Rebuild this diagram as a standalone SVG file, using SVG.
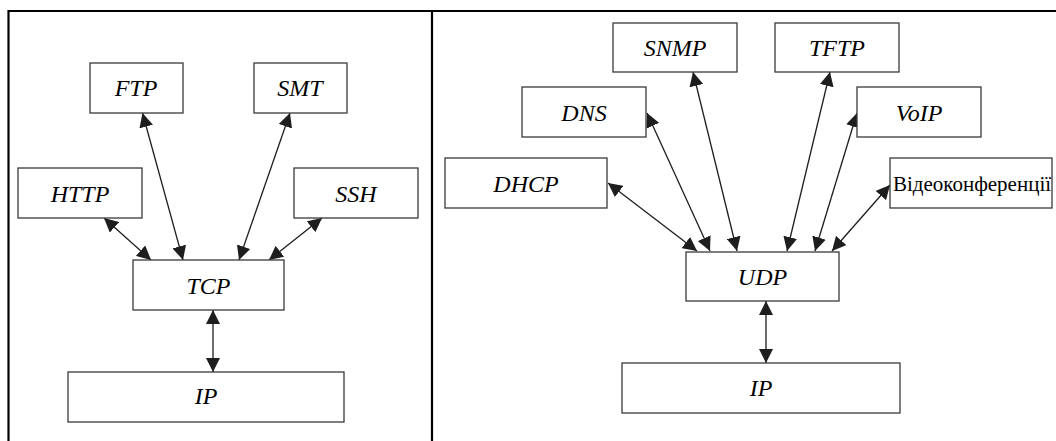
<svg xmlns="http://www.w3.org/2000/svg" width="1056" height="441" viewBox="0 0 1056 441">
<style>
  .box { fill: #ffffff; stroke: #3a3a3a; stroke-width: 1.3; }
  .lbl { font-family: "Liberation Serif", "Times New Roman", serif; font-style: italic; font-size: 24px; fill: #000; text-anchor: middle; }
  .lblr { font-family: "Liberation Serif", "Times New Roman", serif; font-size: 21px; fill: #000; text-anchor: middle; }
  .frame { stroke: #000; stroke-width: 2.2; fill: none; }
  .conn { stroke: #1e1e1e; stroke-width: 1.3; fill: none; marker-start: url(#ah); marker-end: url(#ah); }
</style>
<defs>
  <marker id="ah" viewBox="0 0 14 14" refX="14" refY="7" markerWidth="14" markerHeight="14" markerUnits="userSpaceOnUse" orient="auto-start-reverse">
    <path d="M0,0 L14,7 L0,14 Z" fill="#1e1e1e"/>
  </marker>
</defs>
<rect width="1056" height="441" fill="#ffffff"/>
<g id="frame">
  <line class="frame" x1="8.5" y1="11" x2="1056" y2="11"/>
  <line class="frame" x1="8.5" y1="10" x2="8.5" y2="441"/>
  <line class="frame" x1="432" y1="10" x2="432" y2="441"/>
</g>
<g id="connectors">
  <line class="conn" x1="104" y1="218" x2="151" y2="260"/>
  <line class="conn" x1="142.5" y1="113" x2="183" y2="260"/>
  <line class="conn" x1="290" y1="113" x2="239" y2="260"/>
  <line class="conn" x1="322" y1="218" x2="269" y2="260"/>
  <line class="conn" x1="213" y1="310" x2="213" y2="372"/>
  <line class="conn" x1="608" y1="183" x2="697" y2="251"/>
  <line class="conn" x1="647" y1="113" x2="710" y2="251"/>
  <line class="conn" x1="693" y1="72" x2="737" y2="251"/>
  <line class="conn" x1="830" y1="72" x2="787" y2="251"/>
  <line class="conn" x1="857" y1="113" x2="815" y2="251"/>
  <line class="conn" x1="890" y1="185" x2="832" y2="251"/>
  <line class="conn" x1="766" y1="301" x2="766" y2="363"/>
</g>
<g id="ftp"><rect class="box" x="90" y="63" width="93" height="50"/><text class="lbl" x="136" y="96">FTP</text></g>
<g id="smt"><rect class="box" x="254" y="63" width="93" height="50"/><text class="lbl" x="300" y="96">SMT</text></g>
<g id="http"><rect class="box" x="18" y="168" width="124" height="50"/><text class="lbl" x="80" y="201.5">HTTP</text></g>
<g id="ssh"><rect class="box" x="294" y="168" width="124" height="50"/><text class="lbl" x="356" y="201.5">SSH</text></g>
<g id="tcp"><rect class="box" x="133" y="260" width="151" height="50"/><text class="lbl" x="208.5" y="293.5">TCP</text></g>
<g id="ip-left"><rect class="box" x="68" y="372" width="276" height="50"/><text class="lbl" x="206" y="404">IP</text></g>
<g id="snmp"><rect class="box" x="613" y="23" width="124" height="49"/><text class="lbl" x="675" y="55.5">SNMP</text></g>
<g id="tftp"><rect class="box" x="775" y="23" width="124" height="49"/><text class="lbl" x="837" y="55.5">TFTP</text></g>
<g id="dns"><rect class="box" x="522" y="87" width="124" height="50"/><text class="lbl" x="584" y="120.5">DNS</text></g>
<g id="voip"><rect class="box" x="857" y="87" width="124" height="50"/><text class="lbl" x="919" y="120.5">VoIP</text></g>
<g id="dhcp"><rect class="box" x="445" y="158" width="162" height="50"/><text class="lbl" x="526" y="191.5">DHCP</text></g>
<g id="video"><rect class="box" x="890" y="158" width="162" height="50"/><text class="lblr" x="972" y="190.5">Відеоконференції</text></g>
<g id="udp"><rect class="box" x="686" y="252" width="153" height="49"/><text class="lbl" x="762.5" y="284.5">UDP</text></g>
<g id="ip-right"><rect class="box" x="622" y="363" width="278" height="50"/><text class="lbl" x="761" y="396">IP</text></g>
</svg>
